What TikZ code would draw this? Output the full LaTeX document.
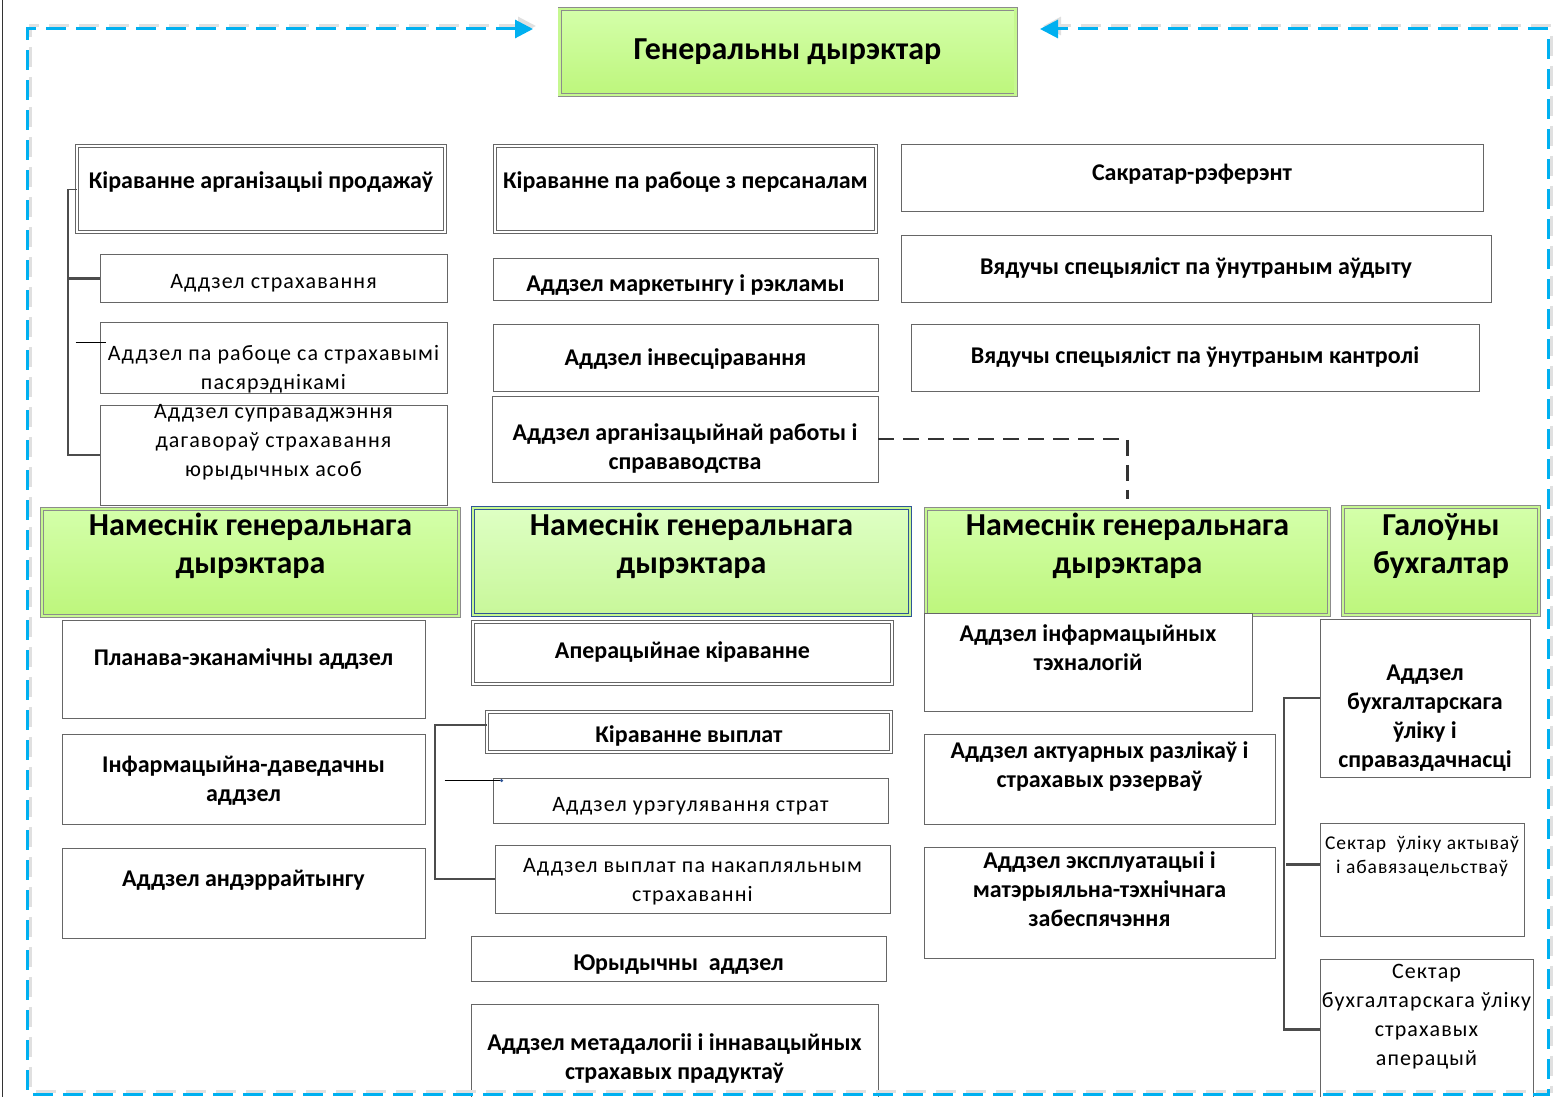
\documentclass[tikz,border=0pt]{standalone}
\usepackage{fontspec}
\setmainfont{Carlito}
\newfontfamily\wide[LetterSpace=5]{Carlito}
\usetikzlibrary{arrows.meta}
\definecolor{gtop}{HTML}{D4FFAA}
\definecolor{gbot}{HTML}{BDF67C}
\definecolor{ltop}{HTML}{DEFFC4}
\definecolor{lbot}{HTML}{C8F79A}
\definecolor{gline}{HTML}{C6F890}
\definecolor{frameblue}{HTML}{00B0F0}
\definecolor{depblue}{HTML}{2F5597}

\begin{document}
\begin{tikzpicture}[x=1pt,y=1pt,yscale=-1,
    box/.style={draw=black!60, line width=0.9pt, fill=white, inner sep=0pt, align=center},
    dbox/.style={box, double=white, double distance=2.4pt, line width=0.8pt},
    gbox/.style={draw=black!45, line width=0.8pt, double=gline, double distance=2.4pt, top color=gtop, bottom color=gbot, inner sep=0pt, align=center},
    bl/.style={font=\bfseries\fontsize{24}{29}\selectfont},
    rl/.style={font=\wide\fontsize{22}{29}\selectfont},
    big/.style={font=\bfseries\fontsize{32}{38.5}\selectfont},
    link/.style={draw=black!70, line width=2.2pt},
    stub/.style={draw=black, line width=0.6pt},
    dlink/.style={draw=black!80, line width=2.6pt, dash pattern=on 16pt off 9pt},
    frame/.style={draw=frameblue, line width=3pt, dash pattern=on 20pt off 10pt, {Triangle[length=18pt,width=18pt]}-{Triangle[length=18pt,width=18pt]}}
]
    \useasboundingbox (0,0) rectangle (1553,1097);
    \draw[black!80, line width=0.8pt] (2,0) -- (2,1097);

    \draw (787.5,52) node [gbox, big, minimum width=456pt, minimum height=86pt, text height=15pt, text depth=0pt] (dir) {Генеральны дырэктар};

    \draw (261,189) node [dbox, bl, minimum width=368pt, minimum height=86pt, text height=0pt, text depth=0pt] (sales) {Кіраванне арганізацыі продажаў};
    \draw (273.5,278) node [box, rl, minimum width=347pt, minimum height=48pt, text height=21pt, text depth=0pt] (ins) {Аддзел страхавання};
    \draw (273.5,357.5) node [box, rl, minimum width=347pt, minimum height=71pt, text height=64pt, text depth=0pt] (brk) {Аддзел па рабоце са страхавымі\\пасярэднікамі};
    \draw (273.5,455) node [box, rl, minimum width=347pt, minimum height=100pt, text height=43pt, text depth=0pt] (sup) {Аддзел суправаджэння\\дагавораў страхавання\\юрыдычных асоб};

    \draw (685.5,189) node [dbox, bl, minimum width=381pt, minimum height=86pt, text height=0pt, text depth=0pt] (hr) {Кіраванне па рабоце з персаналам};
    \draw (685.5,279) node [box, bl, minimum width=385pt, minimum height=42pt, text height=24pt, text depth=0pt] (mkt) {Аддзел маркетынгу і рэкламы};
    \draw (685.5,357.5) node [box, bl, minimum width=385pt, minimum height=67pt, text height=15pt, text depth=0pt] (inv) {Аддзел інвесціравання};
    \draw (685,439) node [box, bl, minimum width=386pt, minimum height=86pt, text height=60pt, text depth=0pt] (org) {Аддзел арганізацыйнай работы і\\справаводства};

    \draw (1192,177.5) node [box, bl, minimum width=582pt, minimum height=67pt, text height=5pt, text depth=0pt] (sec) {Сакратар-рэферэнт};
    \draw (1196,268.5) node [box, bl, minimum width=590pt, minimum height=67pt, text height=11pt, text depth=0pt] (aud) {Вядучы спецыяліст па ўнутраным аўдыту};
    \draw (1195,357.5) node [box, bl, minimum width=568pt, minimum height=67pt, text height=11pt, text depth=0pt] (ctl) {Вядучы спецыяліст па ўнутраным кантролі};

    \draw (250.5,562.5) node [gbox, big, minimum width=417pt, minimum height=107pt, text height=22pt, text depth=0pt] (dep1) {Намеснік генеральнага\\дырэктара};
    \draw (691.5,561.5) node [gbox, big, draw=depblue, top color=ltop, bottom color=lbot, minimum width=437pt, minimum height=107pt, text height=24pt, text depth=0pt] (dep2) {Намеснік генеральнага\\дырэктара};
    \draw (1127.5,562) node [gbox, big, minimum width=403pt, minimum height=106pt, text height=23pt, text depth=0pt] (dep3) {Намеснік генеральнага\\дырэктара};
    \draw (1441,561) node [gbox, big, minimum width=196pt, minimum height=108pt, text height=25pt, text depth=0pt] (gb) {Галоўны\\бухгалтар};

    \draw (243.5,669) node [box, bl, minimum width=363pt, minimum height=98pt, text height=0pt, text depth=8pt] (plan) {Планава-эканамічны аддзел};
    \draw (243.5,779) node [box, bl, minimum width=363pt, minimum height=90pt, text height=44pt, text depth=0pt] (info) {Інфармацыйна-даведачны\\аддзел};
    \draw (243.5,893) node [box, bl, minimum width=363pt, minimum height=90pt, text height=0pt, text depth=14pt] (und) {Аддзел андэррайтынгу};

    \draw (682.5,653) node [dbox, bl, minimum width=419pt, minimum height=62pt, text height=10pt, text depth=0pt] (ops) {Аперацыйнае кіраванне};
    \draw (689,732) node [dbox, bl, minimum width=404pt, minimum height=40pt, text height=20pt, text depth=0pt] (pay) {Кіраванне выплат};
    \draw (690.5,800.5) node [box, rl, minimum width=395pt, minimum height=45pt, text height=22pt, text depth=0pt] (stl) {Аддзел урэгулявання страт};
    \draw (692.5,879) node [box, rl, minimum width=395pt, minimum height=68pt, text height=45pt, text depth=0pt] (acc) {Аддзел выплат па накапляльным\\страхаванні};
    \draw (678.5,958.5) node [box, bl, minimum width=415pt, minimum height=45pt, text height=23pt, text depth=0pt] (law) {Юрыдычны\ \ аддзел};
    \draw (674.5,1052) node [box, bl, minimum width=407pt, minimum height=96pt, text height=54pt, text depth=0pt] (met) {Аддзел метадалогіі і іннавацыйных\\страхавых прадуктаў};

    \draw (1088,662) node [box, bl, minimum width=328pt, minimum height=98pt, text height=16pt, text depth=0pt] (it) {Аддзел інфармацыйных\\тэхналогій};
    \draw (1099.5,779) node [box, bl, minimum width=351pt, minimum height=90pt, text height=16pt, text depth=0pt] (act) {Аддзел актуарных разлікаў і\\страхавых рэзерваў};
    \draw (1099.5,902.5) node [box, bl, minimum width=351pt, minimum height=111pt, text height=47pt, text depth=0pt] (exp) {Аддзел эксплуатацыі і\\матэрыяльна-тэхнічнага\\забеспячэння};

    \draw (1425,698) node [box, bl, minimum width=210pt, minimum height=158pt, text height=138pt, text depth=0pt] (bux) {Аддзел\\бухгалтарскага\\ўліку і\\справаздачнасці};
    \draw (1422,879.5) node [box, font=\wide\fontsize{19.5}{24}\selectfont, minimum width=204pt, minimum height=113pt, text height=0pt, text depth=13pt] (s1) {Сектар\ \ ўліку актываў\\і абавязацельстваў};
    \draw (1426.5,1029.5) node [box, rl, minimum width=213pt, minimum height=141pt, text height=72pt, text depth=0pt] (s2) {Сектар\\бухгалтарскага ўліку\\страхавых\\аперацый};

    \coordinate (lbus) at (68,0);
    \coordinate (mbus) at (435,0);
    \coordinate (rbus) at (1284,0);
    \coordinate (fl) at (533,29);
    \coordinate (fr) at (1040,29);

    \draw[link, line width=1pt] (sales.west) -- (sales.west -| lbus);
    \draw[link] (sales.west -| lbus) -- (sup.west -| lbus) -- (sup.west);
    \draw[link, line width=3pt] (ins.west -| lbus) -- (ins.west);
    \draw[stub] (brk.west) ++(-24,-15) -- ++(30,0);

    \draw[link, line width=1.2pt] (pay.west) ++(0,-7) -| (acc.west -| mbus) -- (acc.west);
    \draw[stub] (stl.west) ++(-48,-20) -- ++(57,0) node [circle, fill=depblue, inner sep=1.2pt] (dot) {};

    \draw[link] (bux.west) -| (s2.west -| rbus) -- (s2.west);
    \draw[link] (s1.west) ++(0,-15) -- ++(-34,0);

    \draw[dlink, shorten >=10pt] (org.east) -| (dep3.north);

    \draw[frame, draw=black!12, transform canvas={shift={(3,3)}}] (fl) -- (27,29) -- (27,1094) -- (1548,1094) -- (1548,29) -- (fr);
    \draw[frame] (fl) -- (27,29) -- (27,1094) -- (1548,1094) -- (1548,29) -- (fr);

\end{tikzpicture}
\end{document}
